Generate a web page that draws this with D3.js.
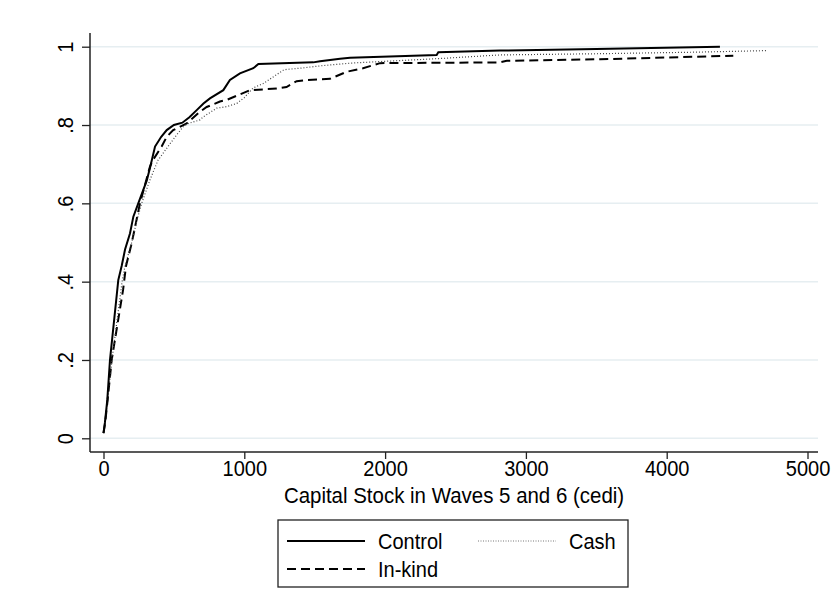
<!DOCTYPE html>
<html>
<head>
<meta charset="utf-8">
<script src="https://cdn.jsdelivr.net/npm/d3@7"></script>
<style>
  body { margin: 0; background: #fff; }
  text { font-family: "Liberation Sans", Arial, sans-serif; fill: #000; }
</style>
</head>
<body>
<div id="chart"></div>
<script>
// Data
var controlX = [0, 10, 27, 46, 105, 129, 153, 188, 212, 247, 307, 330, 366, 410, 449, 500, 560, 610, 662, 710, 756, 851, 898, 969, 1064, 1100, 1490, 1538, 1680, 1751, 2366, 2378, 2816, 3500, 4378];
var controlY = [0.013, 0.04, 0.098, 0.2, 0.404, 0.44, 0.482, 0.523, 0.566, 0.6, 0.658, 0.69, 0.745, 0.77, 0.787, 0.80, 0.806, 0.82, 0.838, 0.855, 0.868, 0.889, 0.915, 0.932, 0.945, 0.956, 0.96, 0.963, 0.969, 0.972, 0.979, 0.986, 0.99, 0.994, 1.0];

var cashX = [0, 12, 30, 60, 132, 153, 200, 240, 271, 330, 387, 458, 520, 567, 602, 685, 709, 804, 875, 946, 1000, 1064, 1135, 1277, 1301, 1396, 1538, 1751, 1964, 2400, 2816, 3500, 4200, 4710];
var cashY = [0.013, 0.04, 0.1, 0.2, 0.4, 0.44, 0.5, 0.56, 0.6, 0.66, 0.71, 0.745, 0.775, 0.796, 0.804, 0.813, 0.821, 0.843, 0.847, 0.855, 0.87, 0.895, 0.906, 0.94, 0.942, 0.945, 0.951, 0.958, 0.962, 0.97, 0.979, 0.982, 0.986, 0.99];

var inkindX = [0, 12, 30, 58, 139, 160, 200, 259, 330, 350, 413, 449, 495, 591, 685, 733, 827, 875, 1040, 1230, 1300, 1372, 1450, 1609, 1727, 1843, 1964, 2816, 2864, 3526, 4473];
var inkindY = [0.013, 0.04, 0.1, 0.2, 0.379, 0.44, 0.498, 0.6, 0.694, 0.71, 0.745, 0.77, 0.787, 0.804, 0.834, 0.846, 0.86, 0.864, 0.889, 0.893, 0.897, 0.912, 0.915, 0.918, 0.936, 0.945, 0.958, 0.96, 0.964, 0.968, 0.977];

var xTicks = [0, 1000, 2000, 3000, 4000, 5000];
var yTicks = [0, 0.2, 0.4, 0.6, 0.8, 1];
var yTickLabels = ["0", ".2", ".4", ".6", ".8", "1"];

var seriesNames = ["Control", "Cash", "In-kind"];

// Set up SVG
var svgWidth = 831;
var svgHeight = 611;

// plot region box
var region = { left: 90, right: 818, top: 33, bottom: 452 };

// the text in the picture is tall and a bit narrow
var fontSize = "22px";
var squeeze = "scale(0.91,1)";

var svg = d3.select("#chart")
    .append("svg")
    .attr("width", svgWidth)
    .attr("height", svgHeight);

// scales
var xScale = d3.scaleLinear().domain([0, 5000]).range([103.5, 807.5]);
var yScale = d3.scaleLinear().domain([0, 1]).range([438.3, 46.7]);

// gridlines
svg.append("g")
    .selectAll("line")
    .data(yTicks)
    .enter()
    .append("line")
    .attr("x1", region.left)
    .attr("x2", region.right)
    .attr("y1", d => yScale(d))
    .attr("y2", d => yScale(d))
    .attr("stroke", "#e6eef1")
    .attr("stroke-width", 1.5);

// y axis
var leftAxis = d3.axisLeft(yScale)
    .tickValues(yTicks)
    .tickSize(8)
    .tickFormat((d, i) => yTickLabels[i]);

var yAxisG = svg.append("g")
    .attr("transform", `translate(${region.left}, 0)`)
    .call(leftAxis);

yAxisG.select(".domain")
    .attr("d", `M0,${region.top}V${region.bottom}`)
    .attr("stroke", "#222")
    .attr("stroke-width", 1.5);
yAxisG.selectAll(".tick line").attr("stroke", "#222").attr("stroke-width", 1.3);
yAxisG.selectAll(".tick text")
    .attr("x", null)
    .attr("dy", null)
    .attr("transform", "translate(-17,0) rotate(-90) " + squeeze)
    .attr("text-anchor", "middle")
    .style("font-size", fontSize)
    .style("font-family", "Liberation Sans, Arial, sans-serif");

// x axis
var bottomAxis = d3.axisBottom(xScale)
    .tickValues(xTicks)
    .tickSize(7)
    .tickFormat(d3.format("d"));

var xAxisG = svg.append("g")
    .attr("transform", `translate(0, ${region.bottom})`)
    .call(bottomAxis);

xAxisG.select(".domain")
    .attr("d", `M${region.left},0H${region.right}`)
    .attr("stroke", "#222")
    .attr("stroke-width", 1.5);
xAxisG.selectAll(".tick line").attr("stroke", "#222").attr("stroke-width", 1.3);
xAxisG.selectAll(".tick text")
    .attr("y", null)
    .attr("dy", null)
    .attr("transform", "translate(0,24) " + squeeze)
    .style("font-size", fontSize)
    .style("font-family", "Liberation Sans, Arial, sans-serif");

// x axis title
svg.append("text")
    .attr("transform", "translate(454,503) scale(0.93,1)")
    .attr("text-anchor", "middle")
    .style("font-size", fontSize)
    .text("Capital Stock in Waves 5 and 6 (cedi)");

// curves
var line = d3.line()
    .x(d => xScale(d[0]))
    .y(d => yScale(d[1]));

var styles = [
    { stroke: "#000", width: 2, dash: null },
    { stroke: "#444", width: 1.2, dash: "1,2" },
    { stroke: "#000", width: 2, dash: "9,5" }
];

var seriesData = [
    d3.zip(controlX, controlY),
    d3.zip(cashX, cashY),
    d3.zip(inkindX, inkindY)
];

// draw in-kind and cash under control
[2, 1, 0].forEach(function(i) {
    svg.append("path")
        .datum(seriesData[i])
        .attr("fill", "none")
        .attr("stroke", styles[i].stroke)
        .attr("stroke-width", styles[i].width)
        .attr("stroke-dasharray", styles[i].dash)
        .attr("d", line);
});

// legend
var legend = svg.append("g");
legend.append("rect")
    .attr("x", 278)
    .attr("y", 520)
    .attr("width", 350)
    .attr("height", 67)
    .attr("fill", "#fff")
    .attr("stroke", "#222")
    .attr("stroke-width", 1.3);

var legendPos = [
    { x: 287, y: 541 },
    { x: 478, y: 541 },
    { x: 287, y: 569 }
];

seriesNames.forEach(function(name, i) {
    var p = legendPos[i];
    legend.append("line")
        .attr("x1", p.x)
        .attr("x2", p.x + 78)
        .attr("y1", p.y)
        .attr("y2", p.y)
        .attr("stroke", i === 1 ? "#777" : styles[i].stroke)
        .attr("stroke-width", i === 1 ? 1 : styles[i].width)
        .attr("stroke-dasharray", i === 1 ? "1,1.5" : styles[i].dash);
    legend.append("text")
        .attr("transform", `translate(${p.x + 91},${p.y + 8}) ${squeeze}`)
        .style("font-size", fontSize)
        .text(name);
});
</script>
</body>
</html>
